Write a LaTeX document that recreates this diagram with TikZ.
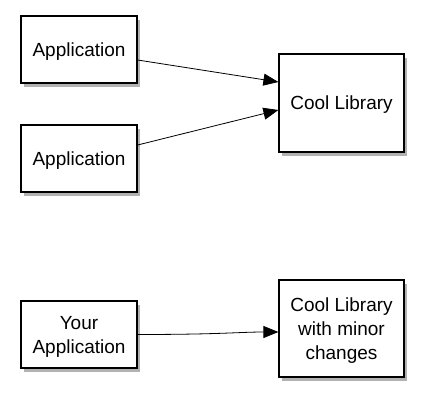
\documentclass[tikz,border=0pt]{standalone}
\usepackage{fontspec}
\setmainfont{Liberation Sans}
\usetikzlibrary{shadows,arrows.meta}
\begin{document}
\begin{tikzpicture}[x=1pt,y=-1pt,
  box/.style={draw=black, line width=1.2pt, fill=white, align=center,
    font=\fontsize{19}{24}\selectfont, text depth=0pt,
    drop shadow={shadow xshift=2.5pt, shadow yshift=-3.5pt, opacity=0.3, fill=black}},
  conn/.style={line width=0.8pt, -{Triangle[length=15pt,width=12pt]}}]
\useasboundingbox (0,0) rectangle (424,402);
\node[box, minimum width=116pt, minimum height=67pt] (a1) at (79,49.5) {Application};
\node[box, minimum width=116pt, minimum height=67pt] (a2) at (79,158.5) {Application};
\node[box, minimum width=125pt, minimum height=98pt] (lib) at (341.5,103) {Cool Library};
\node[box, minimum width=116pt, minimum height=67pt] (ya) at (79,334.5) {Your\\Application};
\node[box, minimum width=125pt, minimum height=97pt] (ml) at (341.5,328.5) {Cool Library\\with minor\\changes};
\draw[conn] (a1.east |- 0,60) -- (lib.west |- 0,82);
\draw[conn] (a2.east |- 0,145) -- (lib.west |- 0,110);
\draw[conn] (ya.east) .. controls (220,334.5) and (240,332) .. (ml.west |- 0,332);
\end{tikzpicture}
\end{document}
